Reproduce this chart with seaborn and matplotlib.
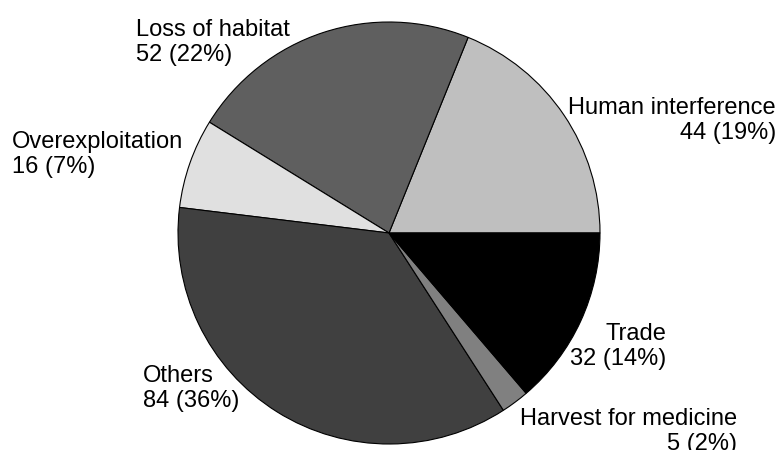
import matplotlib
matplotlib.use("Agg")
import matplotlib.pyplot as plt
import seaborn as sns

categories = ["Human interference", "Loss of habitat", "Overexploitation",
              "Others", "Harvest for medicine", "Trade"]
counts = [44, 52, 16, 84, 5, 32]
colors = ["#bfbfbf", "#5f5f5f", "#e0e0e0", "#404040", "#808080", "#000000"]

sns.set_theme(style="white")
plt.rcParams["font.family"] = ["Liberation Sans", "DejaVu Sans"]

W, H = 778, 450
fig = plt.figure(figsize=(W / 100, H / 100), dpi=100)
ax = fig.add_axes([0, 0, 1, 1])

# pie geometry in pixels (layout)
cx, cy, r = 389, 233, 211
ax.pie(counts, colors=colors, startangle=0, counterclock=True, radius=1,
       wedgeprops=dict(edgecolor="black", linewidth=0.8))
ax.set_xlim(-cx / r, (W - cx) / r)
ax.set_ylim((cy - H) / r, cy / r)
ax.set_aspect("auto")
ax.axis("off")

# label layout: pixel x anchor, pixel last-line baseline, alignment
label_layout = {
    "Human interference": (776, 139, "right"),
    "Loss of habitat": (136, 61, "left"),
    "Overexploitation": (12, 173, "left"),
    "Others": (143, 407, "left"),
    "Harvest for medicine": (737, 450, "right"),
    "Trade": (666, 365, "right"),
}

total = sum(counts)
for cat, n in zip(categories, counts):
    px, py, ha = label_layout[cat]
    pct = round(100 * n / total)
    ax.text((px - cx) / r, (cy - py) / r, f"{cat}\n{n} ({pct}%)",
            ha=ha, va="baseline", multialignment=ha, fontsize=17, color="black")

fig.savefig("out.png", dpi=100)
